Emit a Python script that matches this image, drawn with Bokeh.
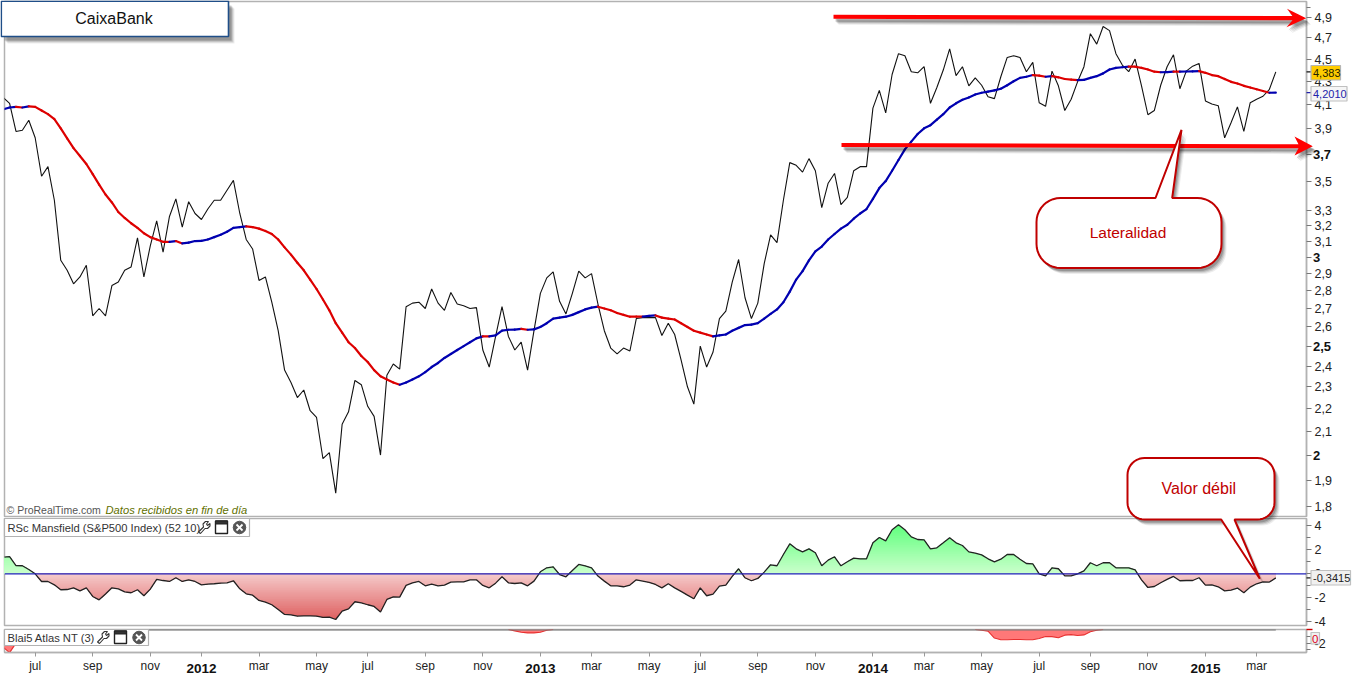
import math
import numpy as np
from bokeh.plotting import figure
from bokeh.layouts import column
from bokeh.models import Range1d, FixedTicker, Label, PolyAnnotation, Span
from bokeh.embed import file_html
from bokeh.resources import INLINE

# ---------- data, one value per week ----------
price = [
4.16,4.11,3.88,3.89,3.97,3.83,3.54,3.61,3.37,2.98,
2.92,2.84,2.88,2.95,2.66,2.70,2.66,2.83,2.85,2.92,
2.94,3.12,2.88,3.07,3.23,3.03,3.26,3.38,3.19,3.36,
3.28,3.24,3.31,3.37,3.37,3.44,3.51,3.28,3.11,3.05,
2.86,2.88,2.735,2.58,2.38,2.32,2.25,2.285,2.19,2.16,
1.985,2.01,1.85,2.13,2.185,2.33,2.31,2.21,2.165,2.00,
2.355,2.41,2.385,2.71,2.73,2.735,2.70,2.81,2.73,2.69,
2.79,2.725,2.715,2.70,2.705,2.48,2.395,2.55,2.71,2.55,
2.48,2.52,2.38,2.58,2.785,2.875,2.91,2.74,2.67,2.785,
2.915,2.875,2.90,2.725,2.58,2.49,2.46,2.49,2.475,2.645,
2.65,2.65,2.65,2.555,2.62,2.56,2.43,2.30,2.22,2.50,
2.395,2.47,2.645,2.685,2.85,2.985,2.76,2.645,2.73,2.96,
3.14,3.09,3.37,3.64,3.62,3.57,3.67,3.58,3.32,3.49,
3.56,3.34,3.39,3.58,3.61,3.61,4.07,4.22,4.03,4.36,
4.55,4.53,4.385,4.375,4.43,4.11,4.245,4.40,4.595,4.35,
4.43,4.26,4.33,4.265,4.165,4.15,4.34,4.515,4.53,4.515,
4.385,4.47,4.115,4.085,4.39,4.26,4.05,4.145,4.295,4.43,
4.74,4.64,4.81,4.77,4.55,4.445,4.385,4.50,4.26,4.015,
4.05,4.265,4.43,4.54,4.235,4.39,4.435,4.46,4.13,4.105,
4.09,3.83,3.95,4.08,3.88,4.115,4.145,4.17,4.23,4.383]

moving_avg = [
4.06,4.075,4.08,4.075,4.085,4.08,4.05,4.02,3.98,3.905,
3.825,3.75,3.69,3.63,3.555,3.48,3.41,3.355,3.29,3.25,
3.215,3.185,3.15,3.125,3.11,3.095,3.095,3.10,3.085,3.09,
3.10,3.101,3.11,3.125,3.14,3.16,3.185,3.19,3.195,3.19,
3.18,3.165,3.145,3.11,3.06,3.015,2.965,2.92,2.865,2.81,
2.75,2.69,2.62,2.57,2.52,2.49,2.45,2.42,2.38,2.35,
2.335,2.32,2.31,2.32,2.335,2.35,2.37,2.395,2.415,2.44,
2.46,2.48,2.50,2.52,2.54,2.55,2.55,2.555,2.58,2.585,
2.586,2.59,2.585,2.587,2.60,2.62,2.645,2.65,2.655,2.665,
2.68,2.695,2.705,2.71,2.70,2.69,2.675,2.665,2.655,2.655,
2.655,2.66,2.662,2.65,2.645,2.64,2.62,2.60,2.58,2.57,
2.56,2.55,2.555,2.56,2.58,2.595,2.61,2.612,2.62,2.645,
2.67,2.695,2.735,2.795,2.865,2.915,2.98,3.035,3.065,3.11,
3.145,3.18,3.205,3.245,3.28,3.31,3.38,3.455,3.505,3.58,
3.66,3.74,3.80,3.86,3.905,3.93,3.975,4.02,4.075,4.11,
4.14,4.16,4.185,4.20,4.21,4.22,4.235,4.265,4.30,4.33,
4.34,4.355,4.35,4.34,4.345,4.335,4.32,4.315,4.31,4.312,
4.33,4.345,4.37,4.405,4.42,4.425,4.43,4.43,4.42,4.405,
4.385,4.38,4.382,4.385,4.385,4.387,4.388,4.39,4.375,4.355,
4.345,4.32,4.295,4.28,4.26,4.245,4.23,4.215,4.20,4.201]

rsc = [
1.39,1.44,.69,.67,.36,0,-.64,-.64,-.92,-1.33,
-1.31,-1.17,-1.42,-1.17,-1.89,-2.17,-1.69,-1.17,-1.25,-1.5,
-1.58,-1.33,-1.83,-1.28,-.47,-.56,-.64,-.33,-.64,-.5,
-.64,-.92,-.86,-.83,-.78,-.75,-.58,-1.25,-1.67,-1.78,
-2.22,-2.36,-2.58,-2.97,-3.39,-3.42,-3.53,-3.5,-3.5,-3.53,
-3.64,-3.61,-3.81,-3.11,-2.92,-2.33,-2.42,-2.58,-2.72,-3.19,
-2.14,-1.92,-1.94,-.97,-.75,-.64,-1.0,-.86,-1.0,-.94,
-.69,-.67,-.67,-.5,-.5,-.97,-1.17,-.78,-.25,-.75,
-.81,-.75,-1.0,-.61,.17,.5,.58,-.06,-.25,.28,
.78,.67,.5,-.19,-.61,-1.0,-1.0,-1.08,-.94,-.5,
-.61,-.72,-.89,-1.17,-.83,-1.17,-1.47,-1.78,-2.08,-1.17,
-1.83,-1.69,-1.03,-.94,-.22,.42,-.33,-.58,-.39,.14,
.75,.67,1.61,2.5,2.08,1.83,2.08,1.75,.67,1.14,
1.42,.67,1.0,1.31,1.25,1.25,2.58,3.03,2.75,3.67,
4.08,3.67,3.08,2.86,2.83,2.08,2.17,2.58,3.0,2.58,
2.36,1.83,1.72,1.58,1.25,1.0,1.22,1.61,1.61,1.22,
.86,.83,0,-.17,.5,.42,-.17,-.17,0,.25,
.92,.67,.92,.92,.5,.5,.5,.33,-.5,-1.14,
-1.06,-.75,-.47,-.22,-.58,-.56,-.56,-.33,-.94,-.92,
-1.08,-1.42,-1.36,-1.19,-1.58,-1.11,-.83,-.67,-.69,-.3415]

atlas_weeks_a = [0, 1, 2, 3]
atlas_vals_a = [-2.6, -3.4, -2.0, 0]
atlas_weeks_b = [79, 80, 81, 82, 83, 84, 85, 86]
atlas_vals_b = [0, -.2, -.4, -.5, -.5, -.4, -.1, 0]
atlas_weeks_c = [152, 153, 154, 155, 156, 157, 158, 159, 160, 161, 162, 163, 164, 165, 166, 167, 168, 169, 170, 171, 172]
atlas_vals_c = [0, -.12, -.25, -1.25, -1.5, -1.5, -1.46, -1.46, -1.5, -1.5, -1.33, -1.04, -1.04, -1.21, -.83, -.75, -.88, -.79, -.33, -.12, 0]

x_tick_weeks = [5, 14, 23, 31, 40, 49, 57, 66, 75, 84, 92, 101, 109, 118, 127, 136, 144, 153, 162, 170, 179, 188, 196]
x_tick_labels = ["jul", "sep", "nov", "2012", "mar", "may", "jul", "sep", "nov", "2013", "mar", "may",
                 "jul", "sep", "nov", "2014", "mar", "may", "jul", "sep", "nov", "2015", "mar"]

price_ticks = [4.9, 4.7, 4.5, 4.3, 4.1, 3.9, 3.7, 3.5, 3.3, 3.2, 3.1, 3.0, 2.9, 2.8, 2.7, 2.6, 2.5, 2.4, 2.3, 2.2, 2.1, 2.0, 1.9, 1.8]
price_bold = [3.7, 3.0, 2.5, 2.0]

weeks = list(range(len(price)))

# ---------- page geometry (canvas pixels of the photographed page) ----------
W = 1363
H = 675
LEFT, RIGHT = 4, 1306
X0 = (LEFT - 2.7) / 6.395
X1 = (RIGHT - 2.7) / 6.395
GRAY = "#b2b2b2"
FONT = "Liberation Sans"
DK = "#c00000"
P_LOW, P_HIGH = 1.7635, 5.063
P_TOP, P_BOTTOM = 1, 516


def price_y(v):
    frac = math.log(v / P_LOW) / math.log(P_HIGH / P_LOW)
    return P_BOTTOM - frac * (P_BOTTOM - P_TOP)


def make_fig(h, top, bottom, yr, **kw):
    f = figure(width=W, height=h, x_range=Range1d(X0, X1), y_range=yr, output_backend="svg",
               toolbar_location=None, y_axis_location="right", min_border_left=LEFT,
               min_border_right=W - RIGHT, min_border_top=top, min_border_bottom=bottom,
               background_fill_color="white", border_fill_color="white",
               outline_line_color=GRAY, outline_line_width=1.5, **kw)
    f.grid.visible = False
    ax = f.yaxis[0]
    ax.axis_line_color = GRAY
    ax.axis_line_width = 1.5
    ax.major_tick_line_color = "#777777"
    ax.minor_tick_line_color = "#777777"
    ax.major_tick_in = 0
    ax.major_tick_out = 5
    ax.minor_tick_in = 0
    ax.minor_tick_out = 4
    ax.major_label_text_font = FONT
    ax.major_label_text_font_size = "12.5px"
    ax.major_label_text_color = "#222222"
    ax.major_label_standoff = 3
    return f


# a transparent sheet over the three panels carries the drawing tools' marks
ov = figure(width=W, height=H, x_range=Range1d(0, W), y_range=Range1d(H, 0), output_backend="svg",
            toolbar_location=None, x_axis_location=None, y_axis_location=None,
            min_border=0, min_border_left=0, min_border_right=0, min_border_top=0, min_border_bottom=0,
            background_fill_color=None, border_fill_color=None, outline_line_color=None,
            frame_align=False,
            styles={"position": "absolute", "top": "0px", "left": "0px", "z-index": "10"})
ov.grid.visible = False


def poly(pts, fill, line=None, lw=1.0, alpha=1.0):
    ov.add_layout(PolyAnnotation(xs=[p[0] for p in pts], ys=[p[1] for p in pts],
                                 xs_units="canvas", ys_units="canvas",
                                 fill_color=fill, fill_alpha=alpha if fill else 0,
                                 line_color=line, line_width=lw, line_alpha=1.0 if line else 0))


def shadow(pts, dx=3, dy=5):
    for k, a in ((3, .07), (2, .10), (1, .14), (0, .18)):
        poly([(x + dx + k, y + dy + k) for x, y in pts], "#000000", None, alpha=a)


def text(x, y, s, size=11.5, color="#222222", align="left", style="normal"):
    ov.add_layout(Label(x=x, y=y, x_units="canvas", y_units="canvas", text=s,
                        text_font=FONT, text_font_size=f"{size}px", text_color=color,
                        text_font_style=style, text_align=align, text_baseline="middle"))


def rect(x0, y0, x1, y1):
    return [(x0, y0), (x1, y0), (x1, y1), (x0, y1)]


def rounded(x0, y0, x1, y1, r):
    pts = []
    for cx, cy, a0 in [(x0 + r, y0 + r, 180), (x1 - r, y0 + r, 270), (x1 - r, y1 - r, 0), (x0 + r, y1 - r, 90)]:
        for k in range(11):
            a = math.radians(a0 + 9 * k)
            pts.append((cx + r * math.cos(a), cy + r * math.sin(a)))
    return pts


def callout_bottom(x0, y0, x1, y1, r, bx0, bx1, tip):
    pts = rounded(x0, y0, x1, y1, r)
    return pts[:33] + [(bx1, y1), tip, (bx0, y1)] + pts[33:]


def callout_top(x0, y0, x1, y1, r, bx0, bx1, tip):
    pts = rounded(x0, y0, x1, y1, r)
    return pts[:11] + [(bx0, y0), tip, (bx1, y0)] + pts[11:]


def header(x1, y0, y1, label, size, wrench_x, win_x, close_x):
    poly(rect(LEFT, y0, x1, y1), "white", GRAY, 1.2)
    cy = (y0 + y1) / 2
    text(7, cy, label, size, "#333333")
    t = cy - 6.5
    wrench = [(1, 11), (6, 6), (5.5, 3), (8, .5), (11, .5), (9, 3), (10, 4.5), (12.5, 2.5), (12.5, 5), (10, 7.5), (7.5, 7.5), (3, 12.5)]
    poly([(wrench_x + a, t + b) for a, b in wrench], "white", "#333333", 1.1)
    poly(rect(win_x, t, win_x + 12, t + 12.5), "white", "#222222", 1.4)
    poly(rect(win_x, t, win_x + 12, t + 3), "#333333", "#222222", 1)
    circle = [(close_x + 6.3 * math.cos(a / 12 * math.tau), cy + 6.3 * math.sin(a / 12 * math.tau)) for a in range(12)]
    poly(circle, "#555555", "#555555", 1)
    poly([(close_x - 3, cy - 3), (close_x + 3, cy + 3)], None, "white", 1.8)
    poly([(close_x + 3, cy - 3), (close_x - 3, cy + 3)], None, "white", 1.8)


# ---------- main price panel ----------
p1 = make_fig(517, P_TOP, 1, Range1d(P_LOW, P_HIGH), y_axis_type="log", x_axis_location=None)
ax1 = p1.yaxis[0]
ax1.ticker = FixedTicker(ticks=price_ticks, minor_ticks=[5.0])
ax1.major_label_overrides = {t: ("" if t in price_bold else (str(t).replace(".", ","))) for t in price_ticks}

p1.line(weeks, price, line_color="#111111", line_width=1.1)
seg_col = ["#0000b0" if moving_avg[i] > moving_avg[i - 1] else "#dd0000" for i in range(1, len(moving_avg))]
p1.segment(weeks[:-1], moving_avg[:-1], weeks[1:], moving_avg[1:], line_color=seg_col, line_width=2.2, line_cap="round")

for t in price_bold:
    s = str(t).replace(".", ",").replace(",0", "")
    text(1312.5, price_y(t), s, 13, "#111111", style="bold")

# last-value marks and tags
poly([(1306, price_y(price[-1])), (1312, price_y(price[-1]))], None, "#111111", 1.2)
poly([(1306, price_y(moving_avg[-1])), (1312, price_y(moving_avg[-1]))], None, "#2222aa", 1.2)

poly(rect(1310.5, 65, 1340, 79.5), "#ffcc00", "#b5b5b5", 1.2)
text(1312.5, 72.5, "4,383", 11, "#222200")
poly(rect(1310.5, 86, 1346.5, 100.5), "#f6f6f6", "#c0c0c0", 1.2)
text(1312.5, 93.5, "4,2010", 11, "#2222aa")

# footer of the panel
text(6, 509, "© ProRealTime.com", 10.5, "#555555")
text(105, 509, "Datos recibidos en fin de día", 11.2, "#5f7000", style="italic")

# title box
shadow(rect(1, 1, 228, 36), 3, 4)
poly(rect(.8, .8, 228, 36), "white", "#1f4e88", 1.6)
text(113.5, 18, "CaixaBank", 16, "#111111", align="center")

# arrows
top_arrow = [(833, 14.3), (1292, 15.5), (1286.5, 8.3), (1305.7, 17.7), (1286, 26.7), (1292, 19.8), (833, 18.3)]
bot_arrow = [(841, 142.5), (1298, 143.7), (1294, 136), (1312.3, 145.7), (1294, 155), (1298, 147.7), (841, 146.5)]
for a in (top_arrow, bot_arrow):
    shadow(a, 2, 3)
    poly(a, "#ff0000", None)

# Lateralidad callout (tail points up)
lat = callout_top(1036, 197.5, 1221, 267.5, 24, 1155, 1171.7, (1181, 129.3))
shadow(lat, 2, 3)
poly(lat, "white", DK, 2.0)
text(1127.5, 232, "Lateralidad", 15.5, DK, align="center")

# Valor débil callout
val = callout_bottom(1127, 457.5, 1274, 519, 17, 1220.7, 1234, (1259.3, 578.3))
shadow(val, 2, 3)
poly(val, "white", DK, 2.0)
text(1198.3, 487.5, "Valor débil", 16, DK, align="center")

# ---------- RSc Mansfield panel ----------
p2 = make_fig(111, 1, 3, Range1d(-4.31, 4.61), x_axis_location=None)
ax2 = p2.yaxis[0]
ax2.ticker = FixedTicker(ticks=[4, 2, 0, -2, -4], minor_ticks=[3, 1, -1, -3])
ax2.major_label_overrides = {4: "4", 2: "2", 0: "0", -2: "-2", -4: "-4"}

rsc_arr = np.array(rsc)
# finer x grid only so that the colour bands follow the straight segments
xf = np.linspace(0, len(rsc) - 1, (len(rsc) - 1) * 8 + 1)
vf = np.interp(xf, weeks, rsc_arr)


def lerp(a, b, t):
    return "#%02x%02x%02x" % tuple(int(round(a[k] + (b[k] - a[k]) * t)) for k in range(3))


for lv in np.arange(4.2, 0, -0.15):
    p2.varea(xf, np.zeros_like(xf), np.clip(vf, 0, lv), fill_color=lerp((205, 255, 205), (95, 255, 125), lv / 4.2))
for lv in np.arange(3.9, 0, -0.15):
    p2.varea(xf, np.zeros_like(xf), np.clip(vf, -lv, 0), fill_color=lerp((246, 205, 205), (222, 95, 95), lv / 3.9))
p2.add_layout(Span(location=0, dimension="width", line_color="#2222bb", line_width=1.2))
p2.line(weeks, rsc, line_color="#222222", line_width=1.3)

header(249, 518, 536, "RSc Mansfield (S&P500 Index) (52 10)", 11.2, 197, 215, 239)
poly([(1306, 577.4), (1312, 577.4)], None, "#111111", 1.2)
poly(rect(1310.5, 570, 1350, 584.5), "#f0f0f0", "#c0c0c0", 1.2)
text(1312.5, 577.5, "-0,3415", 11, "#222222")

# ---------- Blai5 Atlas panel ----------
p3 = make_fig(47, 1, 19, Range1d(-3.375, 0))
ax3 = p3.yaxis[0]
ax3.ticker = FixedTicker(ticks=[-2], minor_ticks=[-1, -3])
ax3.major_label_overrides = {-2: "-2"}

for wk, vals in ((atlas_weeks_a, atlas_vals_a), (atlas_weeks_b, atlas_vals_b), (atlas_weeks_c, atlas_vals_c)):
    p3.varea(wk, [0] * len(wk), vals, fill_color="#ff7878")
    p3.line(wk, vals, line_color="#e83030", line_width=1.1)
p3.line([weeks[0], weeks[-1]], [0, 0], line_color="#777777", line_width=2)

xax = p3.xaxis[0]
xax.ticker = FixedTicker(ticks=x_tick_weeks)
xax.major_label_overrides = {w: ("" if l.isdigit() else l) for w, l in zip(x_tick_weeks, x_tick_labels)}
xax.axis_line_color = GRAY
xax.axis_line_width = 1.5
xax.major_tick_line_color = "#999999"
xax.major_tick_in = 0
xax.major_tick_out = 4
xax.minor_tick_line_color = None
xax.major_label_text_font = FONT
xax.major_label_text_font_size = "12px"
xax.major_label_text_color = "#222222"
xax.major_label_standoff = 2
for w, l in zip(x_tick_weeks, x_tick_labels):
    if l.isdigit():
        text(2.7 + 6.395 * w, 667.5, l, 13.5, "#111111", align="center", style="bold")

header(148, 629, 645, "Blai5 Atlas NT (3)", 11.2, 96, 114, 138.5)
poly([(1306, 629), (1312, 629)], None, "#cc0000", 1.4)
poly(rect(1310.5, 632, 1319, 643.5), "#f0f0f0", "#c0c0c0", 1.2)
text(1314.7, 638, "0", 11.5, "#dd0022", align="center")

page = column(p1, p2, p3, ov, spacing=0)
html = file_html(page, INLINE)
open("out.html", "w").write(html)
